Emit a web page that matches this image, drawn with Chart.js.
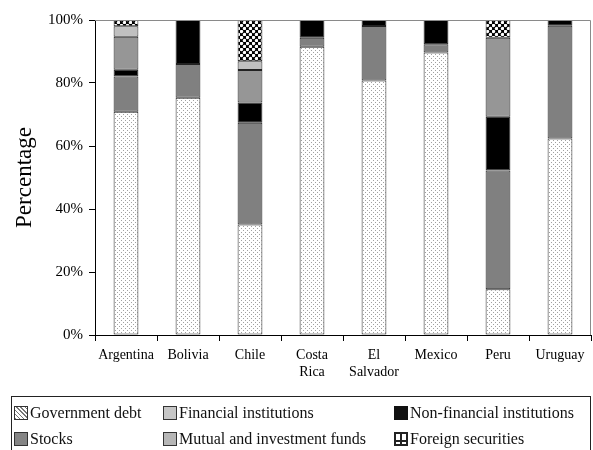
<!DOCTYPE html>
<html lang="en">
<head>
    <meta charset="UTF-8">
    <title>Pension fund portfolios by country</title>
    <style>
        body {
            margin: 0;
            background: #fff;
            font-family: "Liberation Serif", "Times New Roman", serif;
        }

        .wrap {
            position: relative;
            width: 593px;
            height: 450px;
            overflow: hidden;
        }

        .legend {
            position: absolute;
            left: 11px;
            top: 396px;
            width: 578px;
            height: 70px;
            border: 1px solid #222;
        }

        .item {
            position: absolute;
            display: flex;
            align-items: center;
            height: 16px;
            font-size: 16px;
            color: #111;
            white-space: nowrap;
        }

        .swatch {
            width: 12px;
            height: 12px;
            border: 1px solid #333;
            margin-right: 2px;
            box-sizing: content-box;
        }

        .sw-gov { background: repeating-linear-gradient(45deg, #777 0 1px, #fff 1px 3px); }
        .sw-fin { background: #c6c6c6; }
        .sw-nonfin { background: #111; border-color: #111; }
        .sw-stocks { background: #858585; }
        .sw-mutual { background: #b6b6b6; }
        .sw-foreign {
            width: 10px;
            height: 10px;
            border: 2px solid #222;
            background:
                linear-gradient(#222, #222) 50% 0 / 2px 100% no-repeat,
                linear-gradient(#222, #222) 0 70% / 100% 2px no-repeat,
                #fff;
        }
    </style>
</head>
<body>
    <div class="wrap">
        <canvas id="chart" width="593" height="450"></canvas>
        <div class="legend" id="legend"></div>
    </div>

    <script src="https://cdn.jsdelivr.net/npm/chart.js"></script>
    <script>
        // categories and series (percent of portfolio)
        const countries = ['Argentina', 'Bolivia', 'Chile', ['Costa', 'Rica'], ['El', 'Salvador'], 'Mexico', 'Peru', 'Uruguay'];
        const governmentDebt = [70.9, 75.3, 35.1, 91.5, 80.8, 89.7, 14.5, 62.4];
        const financialInst = [11.2, 10.7, 32.3, 2.9, 17.3, 2.6, 37.7, 35.8];
        const nonFinancialInst = [2.1, 14.0, 6.4, 5.6, 1.9, 7.7, 17.1, 1.8];
        const stocks = [10.5, 0, 10.3, 0, 0, 0, 25.1, 0];
        const mutualFunds = [3.3, 0, 2.8, 0, 0, 0, 0, 0];
        const foreignSecurities = [2.0, 0, 13.1, 0, 0, 0, 5.6, 0];

        const seriesNames = ['Government debt', 'Financial institutions', 'Non-financial institutions',
            'Stocks', 'Mutual and investment funds', 'Foreign securities'];
        const yTickStep = 20;

        function makePattern(size, draw) {
            const c = document.createElement('canvas');
            c.width = size;
            c.height = size;
            const g = c.getContext('2d');
            draw(g, size);
            return g.createPattern(c, 'repeat');
        }

        const dotted = makePattern(4, g => {
            g.fillStyle = '#fff';
            g.fillRect(0, 0, 4, 4);
            g.fillStyle = '#a0a0a0';
            g.fillRect(1, 0, 1, 1);
            g.fillRect(3, 2, 1, 1);
        });

        const checks = makePattern(6, g => {
            g.fillStyle = '#000';
            g.fillRect(0, 0, 6, 6);
            g.fillStyle = '#fff';
            [[1.5, 1.5], [4.5, 4.5]].forEach(p => {
                g.beginPath();
                g.arc(p[0], p[1], 1.7, 0, Math.PI * 2);
                g.fill();
            });
        });

        const series = [governmentDebt, financialInst, nonFinancialInst, stocks, mutualFunds, foreignSecurities];
        const fills = [dotted, '#808080', '#000000', '#969696', '#c0c0c0', checks];

        const datasets = series.map((values, i) => ({
            label: seriesNames[i],
            data: values.map(v => v > 0 ? v : null),
            backgroundColor: fills[i],
            borderColor: '#222',
            borderWidth: 1,
            borderSkipped: false,
            barPercentage: 0.4,
            categoryPercentage: 1
        }));

        // grey frame on top and right of the plot
        const framePlugin = {
            id: 'frame',
            afterDraw(chart) {
                const { ctx, chartArea: a } = chart;
                ctx.save();
                ctx.strokeStyle = '#8a8a8a';
                ctx.lineWidth = 1;
                ctx.beginPath();
                ctx.moveTo(a.left, a.top + 0.5);
                ctx.lineTo(a.right - 0.5, a.top + 0.5);
                ctx.lineTo(a.right - 0.5, a.bottom);
                ctx.stroke();
                ctx.restore();
            }
        };

        Chart.defaults.font.family = '"Liberation Serif", "Times New Roman", serif';
        Chart.defaults.color = '#000';

        new Chart(document.getElementById('chart'), {
            type: 'bar',
            data: { labels: countries, datasets: datasets },
            plugins: [framePlugin],
            options: {
                responsive: false,
                animation: false,
                layout: { padding: { top: 20, right: 2, left: 0, bottom: 0 } },
                plugins: {
                    legend: { display: false },
                    tooltip: { enabled: false }
                },
                scales: {
                    x: {
                        stacked: true,
                        afterFit: scale => { scale.height = 115; },
                        grid: { drawOnChartArea: false, tickLength: 6, color: '#000' },
                        border: { color: '#000' },
                        ticks: { font: { size: 14 }, padding: 6, maxRotation: 0, autoSkip: false }
                    },
                    y: {
                        stacked: true,
                        min: 0,
                        max: 100,
                        afterFit: scale => { scale.width = 95; },
                        grid: { drawOnChartArea: false, tickLength: 6, color: '#000' },
                        border: { color: '#000' },
                        ticks: {
                            stepSize: yTickStep,
                            font: { size: 15 },
                            padding: 6,
                            callback: v => v + '%'
                        },
                        title: {
                            display: true,
                            text: 'Percentage',
                            font: { size: 23 },
                            padding: { top: 11, bottom: 0 }
                        }
                    }
                }
            }
        });

        // legend box below the chart, laid out in three columns
        const swatchClass = ['sw-gov', 'sw-fin', 'sw-nonfin', 'sw-stocks', 'sw-mutual', 'sw-foreign'];
        const colLeft = [2, 151, 382];
        const rowTop = [8, 34];
        const legend = document.getElementById('legend');
        seriesNames.forEach((name, i) => {
            const item = document.createElement('div');
            item.className = 'item';
            item.style.left = colLeft[i % 3] + 'px';
            item.style.top = rowTop[Math.floor(i / 3)] + 'px';
            const sw = document.createElement('span');
            sw.className = 'swatch ' + swatchClass[i];
            item.appendChild(sw);
            item.appendChild(document.createTextNode(name));
            legend.appendChild(item);
        });
    </script>
</body>
</html>
